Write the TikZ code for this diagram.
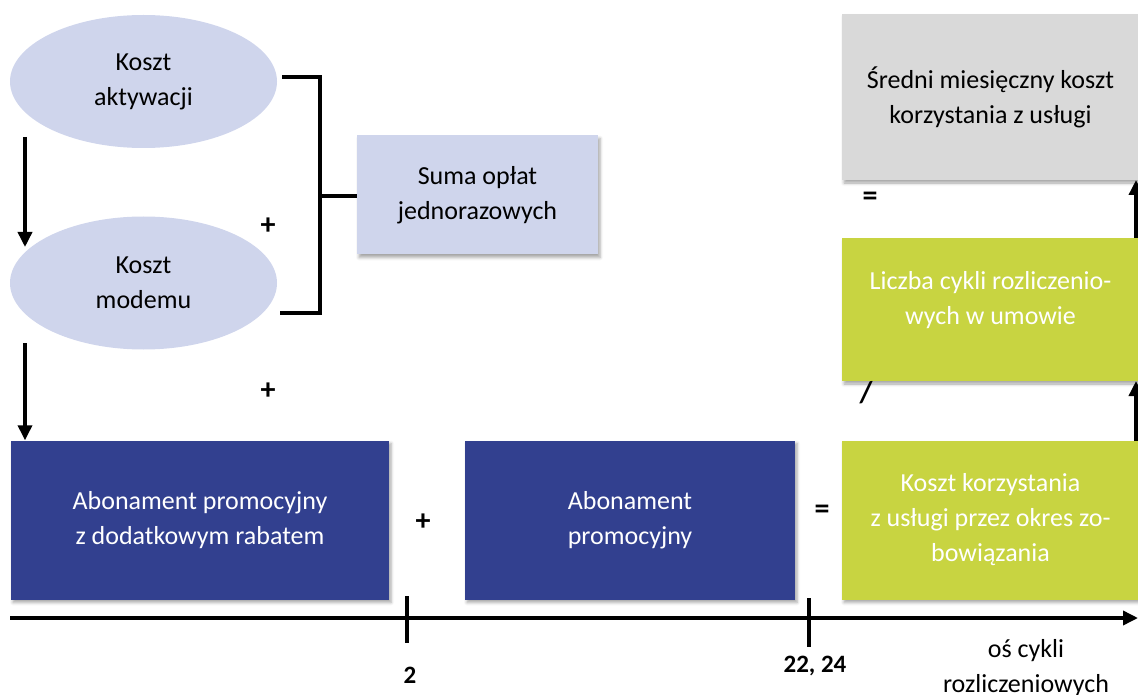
\documentclass[tikz,border=0pt]{standalone}
\usepackage{fontspec}
\setmainfont{Carlito}
\usetikzlibrary{shapes.geometric,arrows.meta,shadows.blur}
\definecolor{lav}{RGB}{207,213,236}
\definecolor{navy}{RGB}{50,64,143}
\definecolor{lime}{RGB}{200,212,65}
\definecolor{greybox}{RGB}{217,217,217}
\tikzset{
  txt/.style={font=\fontsize{26}{35}\selectfont, align=center},
  oval/.style={ellipse, fill=lav, minimum width=267pt, minimum height=133pt, inner sep=0pt, txt},
  box/.style={rectangle, inner sep=0pt, txt, blur shadow={shadow xshift=2pt, shadow yshift=-3pt, shadow blur radius=3pt, shadow opacity=35}},
  line/.style={line width=3.5pt},
  arr/.style={line width=3.5pt, -{Triangle[width=14pt,length=15pt]}},
  op/.style={font=\fontsize{30}{34}\selectfont\bfseries},
  tick/.style={font=\fontsize{25}{30}\selectfont\bfseries},
}
\begin{document}
\begin{tikzpicture}[x=1pt,y=-1pt]
\useasboundingbox (0,0) rectangle (1138,695);
\clip (0,0) rectangle (1138,695);
% ovals
\node[oval] (e1) at (143.5,81.5) {Koszt\\aktywacji};
\node[oval] (e2) at (143.5,283) {Koszt\\modemu};
% sum box
\node[box, fill=lav, minimum width=241pt, minimum height=119pt] (suma) at (477.5,195) {Suma opłat\\jednorazowych};
% bottom boxes
\node[box, fill=navy, text=white, minimum width=378pt, minimum height=159pt] (ab1) at (200,520) {Abonament promocyjny\\z dodatkowym rabatem};
\node[box, fill=navy, text=white, minimum width=330pt, minimum height=159pt] (ab2) at (630,520) {Abonament\\promocyjny};
\node[box, fill=lime, text=white, minimum width=297pt, minimum height=159pt] (kk) at (990.5,520) {Koszt korzystania\\z usługi przez okres zo-\\bowiązania};
\node[box, fill=lime, minimum width=297pt, minimum height=143pt,
  label={[txt, text=white, yshift=9pt]center:{Liczba cykli rozliczenio-\\wych w umowie}}] (lc) at (990.5,309.5) {};
\node[box, fill=greybox, minimum width=297pt, minimum height=166pt] (sr) at (990.5,97) {Średni miesięczny koszt\\korzystania z usługi};
% bracket
\coordinate (bt0) at (282,77);
\coordinate (bt1) at (320,77);
\coordinate (bb0) at (280,313);
\coordinate (bb1) at (320,313);
\coordinate (bm) at (320,196);
\draw[line] (bt0) -- (bt1) -- (bb1) -- (bb0);
\draw[line] (bm) -- (suma.west |- bm);
% left arrows
\coordinate (a1s) at (25,137);
\coordinate (a1e) at (25,247);
\coordinate (a2s) at (25,343);
\draw[arr] (a1s) -- (a1e);
\draw[arr] (a2s) -- (a2s |- ab1.north);
% right arrows
\coordinate (r1s) at (1136,441);
\coordinate (r1e) at (1136,381);
\coordinate (r2s) at (1136,238);
\coordinate (r2e) at (1136,180);
\draw[arr] (r1s) -- (r1e);
\draw[arr] (r2s) -- (r2e);
% operators
\node[op] (p1) at (268,226) {+};
\node[op] (p2) at (268,391) {+};
\node[op] (p3) at (423,522) {+};
\node[op] (q1) at (822,512) {=};
\node[op] (q2) at (870,199) {=};
\node[op] (s1) at (866,393) {/};
% axis
\coordinate (ax0) at (10,618);
\coordinate (ax1) at (1138,618);
\draw[arr] (ax0) -- (ax1);
\coordinate (t1a) at (407,596);
\coordinate (t1b) at (407,643);
\coordinate (t2a) at (809,598);
\coordinate (t2b) at (809,647);
\draw[line] (t1a) -- (t1b);
\draw[line] (t2a) -- (t2b);
\node[tick] (l2) at (410,675) {2};
\node[tick] (l22) at (815,666) {22, 24};
\node[font=\fontsize{26}{35}\selectfont, align=center] (os) at (1026,668) {oś cykli\\rozliczeniowych};
\end{tikzpicture}
\end{document}
